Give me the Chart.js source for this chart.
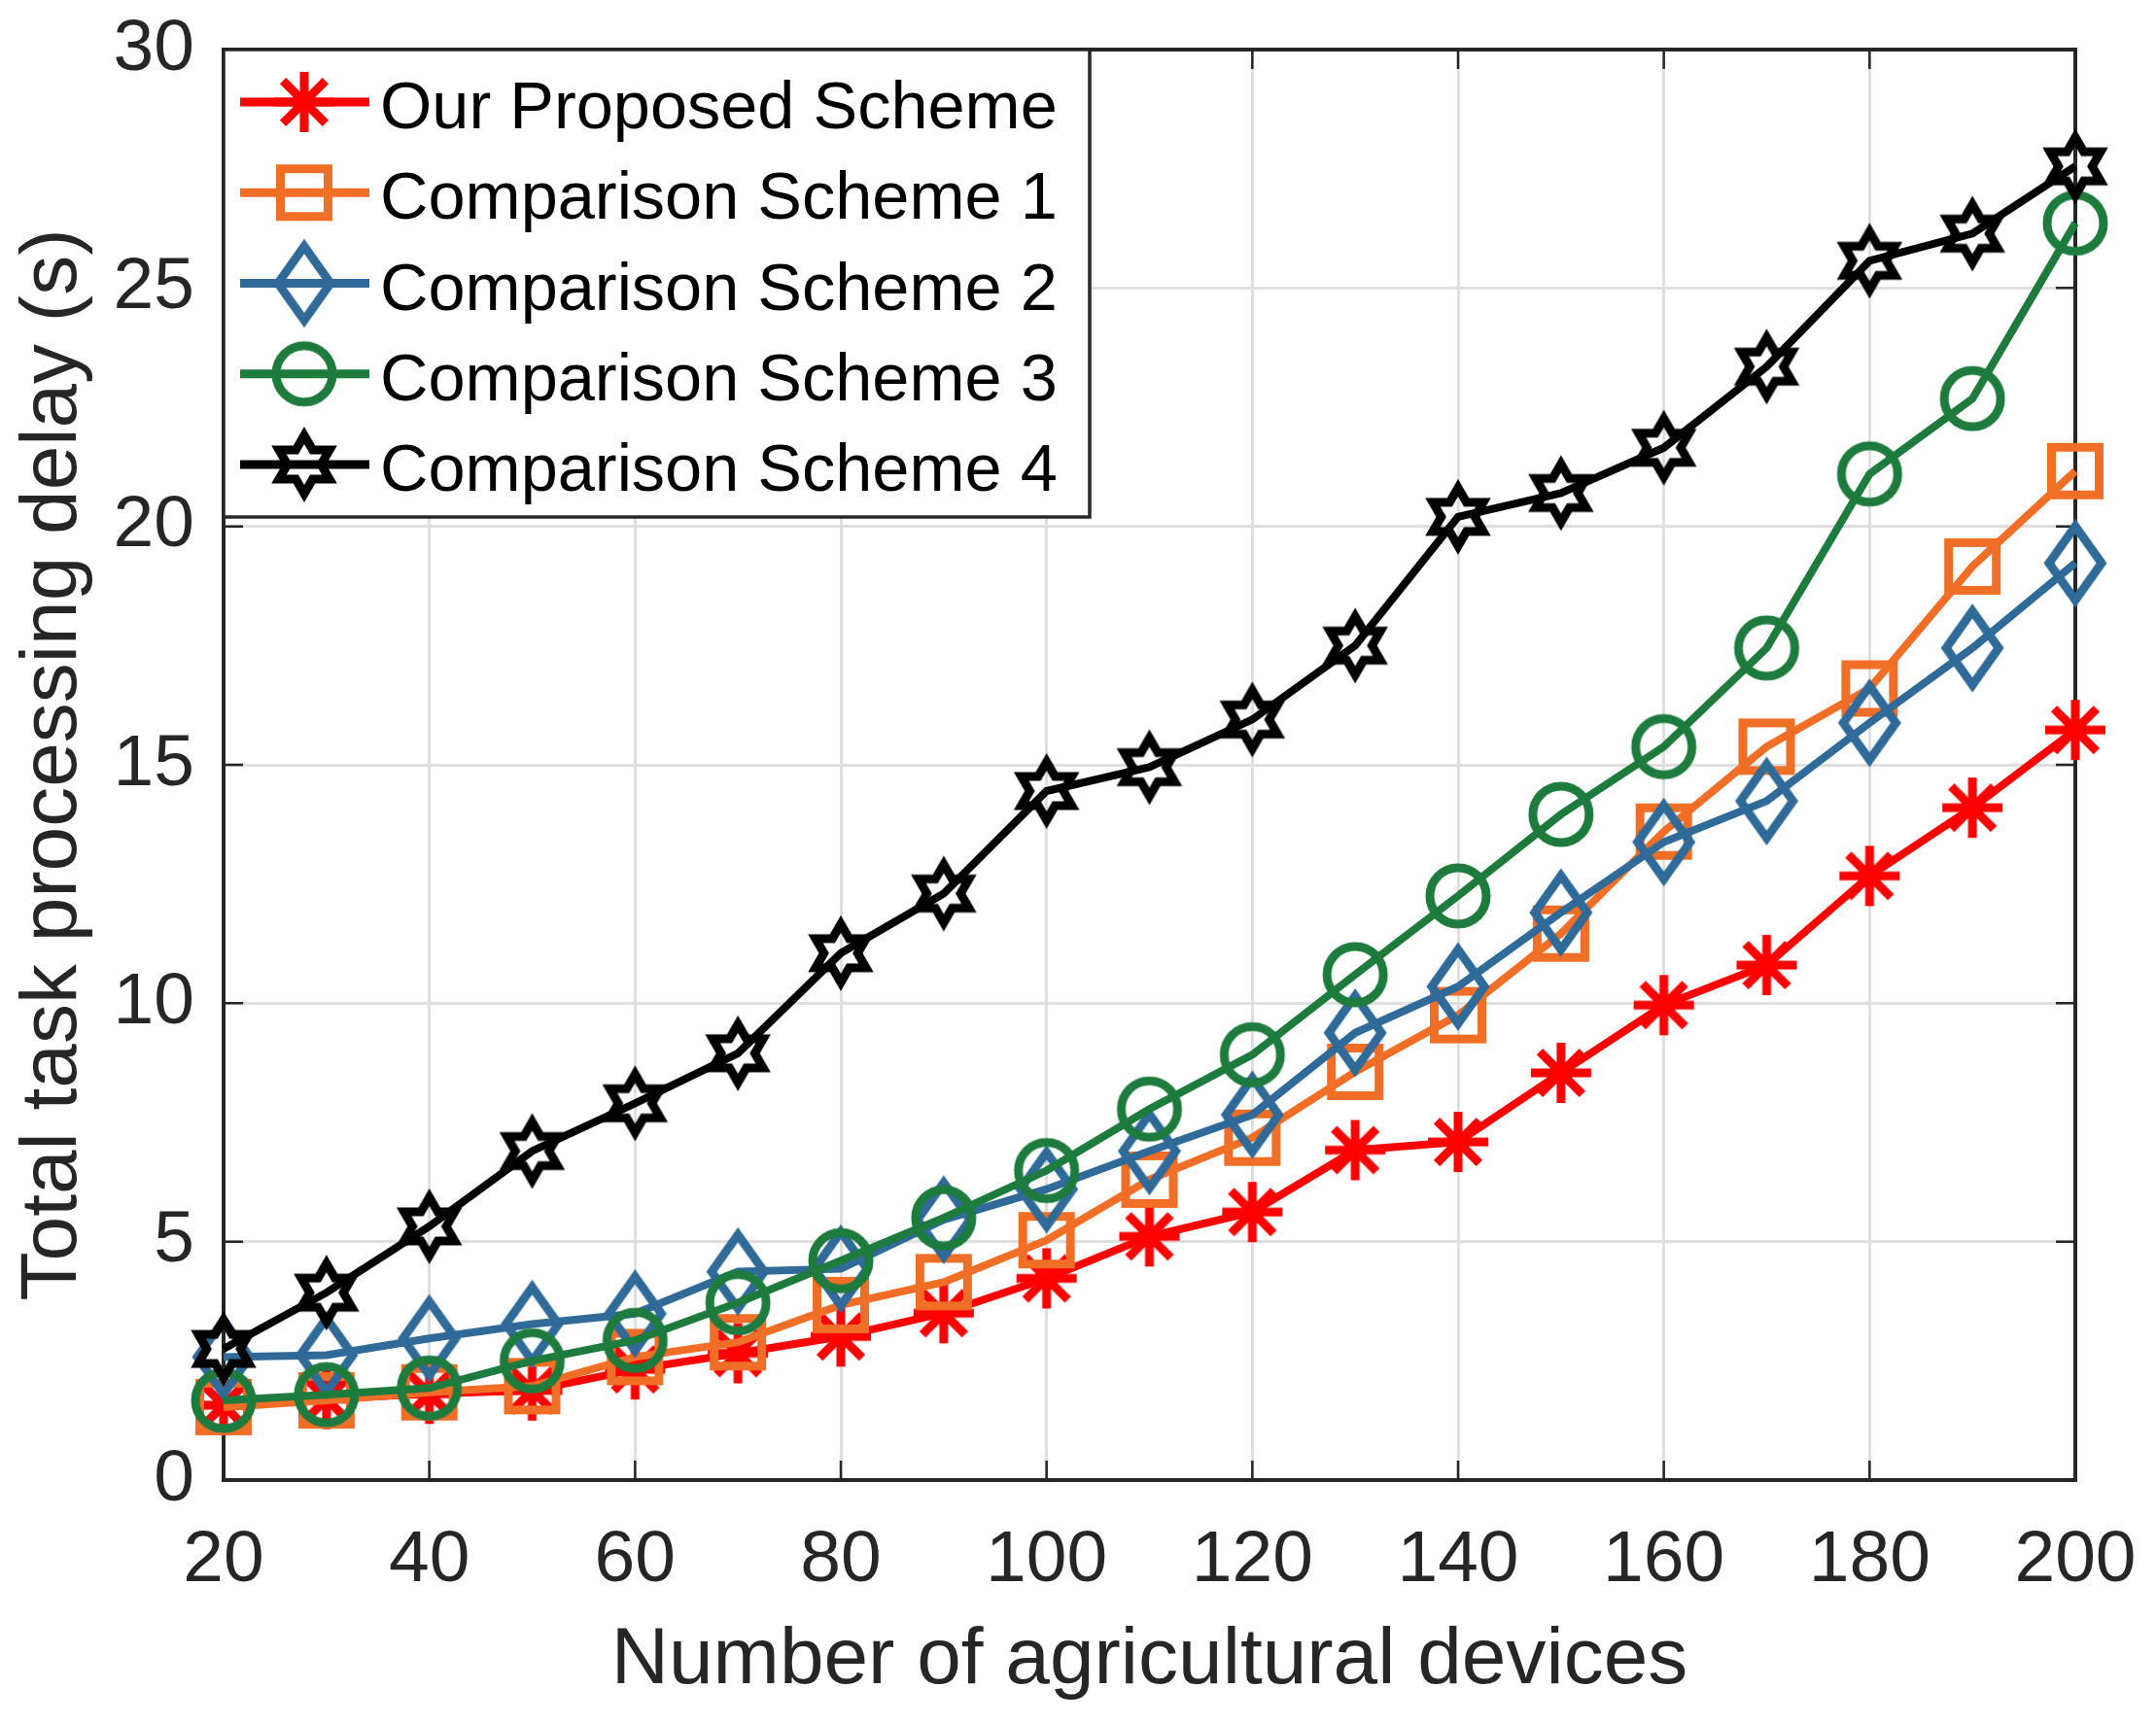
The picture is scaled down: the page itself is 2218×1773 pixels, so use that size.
<!DOCTYPE html>
<html>
<head>
<meta charset="utf-8">
<script src="https://cdn.jsdelivr.net/npm/chart.js@4.4.0/dist/chart.umd.min.js"></script>
<style>
  html, body { margin: 0; padding: 0; background: #fff; }
  canvas { display: block; }
</style>
</head>
<body>
<canvas id="chart" width="2218" height="1773"></canvas>
<script>
// number of agricultural devices (x axis)
const devices = [20, 30, 40, 50, 60, 70, 80, 90, 100, 110, 120, 130, 140, 150, 160, 170, 180, 190, 200];

// total task processing delay (s)
const ourScheme = [1.57, 1.70, 1.81, 1.88, 2.32, 2.66, 3.01, 3.50, 4.23, 5.11, 5.62, 6.92, 7.09, 8.54, 9.96, 10.80, 12.67, 14.10, 15.73];
const scheme1 = [1.53, 1.67, 1.84, 1.97, 2.58, 2.89, 3.67, 4.15, 5.03, 6.30, 7.18, 8.56, 9.75, 11.46, 13.60, 15.38, 16.60, 19.16, 21.16];
const scheme2 = [2.58, 2.62, 2.97, 3.27, 3.49, 4.37, 4.43, 5.46, 6.10, 6.90, 7.66, 9.38, 10.35, 11.90, 13.38, 14.24, 15.88, 17.45, 19.23];
const scheme3 = [1.67, 1.79, 1.93, 2.50, 2.93, 3.72, 4.60, 5.50, 6.49, 7.78, 8.92, 10.60, 12.25, 13.96, 15.38, 17.45, 21.10, 22.68, 26.36];
const scheme4 = [2.75, 3.93, 5.32, 6.90, 7.90, 8.95, 11.05, 12.30, 14.45, 14.95, 15.95, 17.50, 20.20, 20.70, 21.65, 23.35, 25.57, 26.14, 27.55];

const seriesNames = ["Our Proposed Scheme", "Comparison Scheme 1", "Comparison Scheme 2", "Comparison Scheme 3", "Comparison Scheme 4"];
const seriesValues = [ourScheme, scheme1, scheme2, scheme3, scheme4];
const seriesColors = ["#ff0000", "#f06e26", "#2f6a99", "#1e7b3e", "#000000"];
const seriesMarkers = ["asterisk", "square", "diamond", "circle", "hexagram"];

const xTitle = "Number of agricultural devices";
const yTitle = "Total task processing delay (s)";

const axisColor = "#262626";
const gridColor = "#dfdfdf";
const fontFamily = "'Liberation Sans', Arial, Helvetica, sans-serif";

// MATLAB-like hollow markers, drawn once into small canvases
function makeMarker(kind, color) {
  const c = document.createElement("canvas");
  c.width = 100;
  c.height = 100;
  const g = c.getContext("2d");
  g.translate(50, 50);
  g.strokeStyle = color;
  g.lineWidth = 9;
  g.lineJoin = "miter";
  g.miterLimit = 10;
  g.beginPath();
  if (kind === "asterisk") {
    const L = 31;
    for (let k = 0; k < 4; k++) {
      const a = k * Math.PI / 4;
      g.moveTo(-L * Math.cos(a), -L * Math.sin(a));
      g.lineTo(L * Math.cos(a), L * Math.sin(a));
    }
  } else if (kind === "square") {
    g.rect(-24.5, -24.5, 49, 49);
  } else if (kind === "diamond") {
    g.moveTo(0, -38);
    g.lineTo(27, 0);
    g.lineTo(0, 38);
    g.lineTo(-27, 0);
    g.closePath();
  } else if (kind === "circle") {
    g.arc(0, 0, 29, 0, Math.PI * 2);
  } else if (kind === "hexagram") {
    const R = 30, r = R / Math.sqrt(3);
    for (let k = 0; k < 12; k++) {
      const a = -Math.PI / 2 + k * Math.PI / 6;
      const rr = k % 2 === 0 ? R : r;
      if (k === 0) g.moveTo(rr * Math.cos(a), rr * Math.sin(a));
      else g.lineTo(rr * Math.cos(a), rr * Math.sin(a));
    }
    g.closePath();
  }
  g.stroke();
  return c;
}

const markers = seriesMarkers.map((m, i) => makeMarker(m, seriesColors[i]));

const datasets = seriesNames.map((name, i) => ({
  label: name,
  data: devices.map((d, j) => ({ x: d, y: seriesValues[i][j] })),
  borderColor: seriesColors[i],
  backgroundColor: seriesColors[i],
  borderWidth: 8,
  pointStyle: markers[i],
  pointRadius: 30,
  tension: 0,
  clip: false,
  order: seriesNames.length - i
}));

// box, inward ticks and the legend, the way MATLAB draws them
const matlabAxes = {
  id: "matlabAxes",
  beforeDatasetsDraw(chart) {
    const { ctx, chartArea: a, scales: { x, y } } = chart;
    const tl = 20;
    ctx.save();
    ctx.strokeStyle = axisColor;
    ctx.lineWidth = 2.5;
    ctx.beginPath();
    x.ticks.forEach(t => {
      const px = x.getPixelForValue(t.value);
      ctx.moveTo(px, a.bottom); ctx.lineTo(px, a.bottom - tl);
      ctx.moveTo(px, a.top); ctx.lineTo(px, a.top + tl);
    });
    y.ticks.forEach(t => {
      const py = y.getPixelForValue(t.value);
      ctx.moveTo(a.left, py); ctx.lineTo(a.left + tl, py);
      ctx.moveTo(a.right, py); ctx.lineTo(a.right - tl, py);
    });
    ctx.stroke();
    ctx.lineWidth = 4;
    ctx.strokeRect(a.left, a.top, a.right - a.left, a.bottom - a.top);
    ctx.restore();
  },
  afterDraw(chart) {
    const { ctx, chartArea: a } = chart;
    const boxW = 891, boxH = 481;
    ctx.save();
    ctx.fillStyle = "#fff";
    ctx.fillRect(a.left, a.top, boxW, boxH);
    ctx.strokeStyle = axisColor;
    ctx.lineWidth = 3.5;
    ctx.strokeRect(a.left, a.top, boxW, boxH);
    ctx.font = "68.5px " + fontFamily;
    ctx.textBaseline = "alphabetic";
    ctx.textAlign = "left";
    chart.data.datasets.forEach((ds, i) => {
      const cy = a.top + 54 + i * 93.25;
      ctx.strokeStyle = ds.borderColor;
      ctx.lineWidth = 9;
      ctx.beginPath();
      ctx.moveTo(a.left + 17, cy);
      ctx.lineTo(a.left + 150, cy);
      ctx.stroke();
      ctx.drawImage(ds.pointStyle, a.left + 83 - 50, cy - 50);
      ctx.fillStyle = "#000";
      ctx.fillText(ds.label, a.left + 161, cy + 27);
    });
    ctx.restore();
  }
};

new Chart(document.getElementById("chart"), {
  type: "line",
  data: { datasets: datasets },
  options: {
    responsive: false,
    devicePixelRatio: 1,
    animation: false,
    layout: { padding: { left: 0, top: 51, right: 83, bottom: 0 } },
    plugins: {
      legend: { display: false },
      tooltip: { enabled: false }
    },
    scales: {
      x: {
        type: "linear",
        min: 20,
        max: 200,
        ticks: {
          stepSize: 20,
          padding: 38,
          color: axisColor,
          font: { family: fontFamily, size: 75 },
          maxRotation: 0
        },
        grid: { color: gridColor, lineWidth: 3, drawTicks: false },
        border: { display: false },
        title: {
          display: true,
          text: xTitle,
          color: axisColor,
          font: { family: fontFamily, size: 82 },
          padding: { top: 0, bottom: 14 }
        },
        afterFit(scale) {
          scale.height = 250;
          scale.paddingLeft = 0;
          scale.paddingRight = 0;
        }
      },
      y: {
        min: 0,
        max: 30,
        ticks: {
          stepSize: 5,
          padding: 30,
          color: axisColor,
          font: { family: fontFamily, size: 75 }
        },
        grid: { color: gridColor, lineWidth: 3, drawTicks: false },
        border: { display: false },
        title: {
          display: true,
          text: yTitle,
          color: axisColor,
          font: { family: fontFamily, size: 82 },
          padding: { top: 6, bottom: 0 }
        },
        afterFit(scale) {
          scale.width = 230;
          scale.paddingTop = 0;
          scale.paddingBottom = 0;
        }
      }
    }
  },
  plugins: [matlabAxes]
});
</script>
</body>
</html>
